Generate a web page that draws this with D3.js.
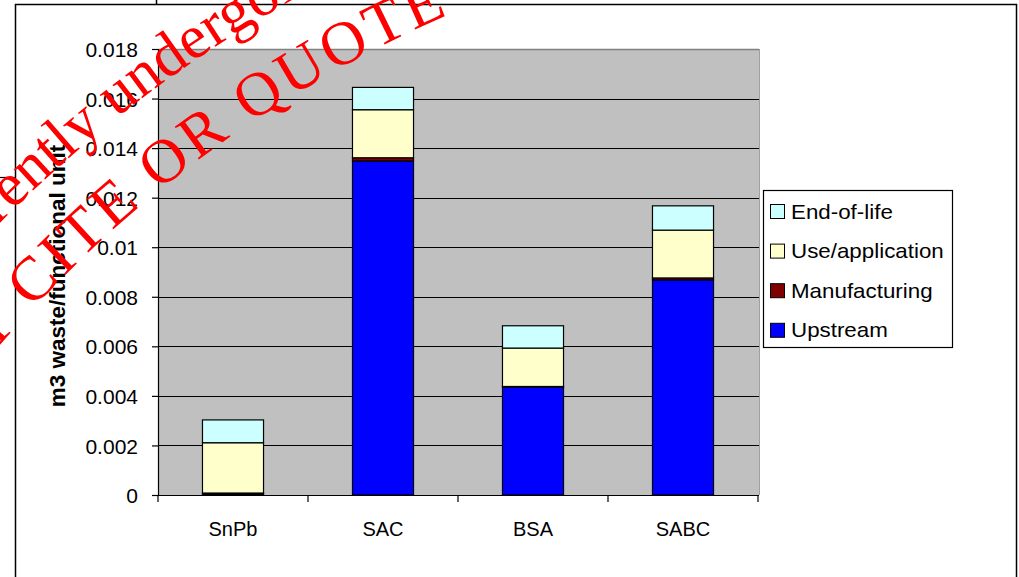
<!DOCTYPE html>
<html>
<head>
<meta charset="utf-8">
<script src="https://cdn.jsdelivr.net/npm/d3@7"></script>
<style>
  html, body { margin: 0; padding: 0; background: #ffffff; }
  svg { display: block; }
  text { font-family: Arial, "Liberation Sans", sans-serif; }
  text.stamp { font-family: "Liberation Serif", "Times New Roman", serif; }
</style>
</head>
<body>
<svg id="chart" width="1019" height="577"></svg>
<script>
// Waste volume per functional unit, by life-cycle stage
const categories = ["SnPb", "SAC", "BSA", "SABC"];
const upstream      = [0.00004, 0.01348, 0.00436, 0.00868];
const manufacturing = [0.00004, 0.00013, 0.00002, 0.00008];
const useApplication = [0.00203, 0.00194, 0.00155, 0.00193];
const endOfLife     = [0.00092, 0.00090, 0.00090, 0.00098];

const seriesNames  = ["Upstream", "Manufacturing", "Use/application", "End-of-life"];
const seriesColors = ["#0000ff", "#800000", "#ffffcc", "#ccffff"];

const yTickValues = [0, 0.002, 0.004, 0.006, 0.008, 0.01, 0.012, 0.014, 0.016, 0.018];
const yTickLabels = ["0", "0.002", "0.004", "0.006", "0.008", "0.01", "0.012", "0.014", "0.016", "0.018"];

const svg = d3.select("#chart");

// outer frame of the figure
svg.append("rect")
  .attr("x", 15.5).attr("y", 4.5)
  .attr("width", 1001).attr("height", 600)
  .attr("fill", "#ffffff").attr("stroke", "#000").attr("stroke-width", 1.5);
svg.append("line").attr("x1", 156.5).attr("x2", 156.5).attr("y1", 0).attr("y2", 4)
  .attr("stroke", "#000").attr("stroke-width", 1.5);
svg.append("line").attr("x1", 0).attr("x2", 15).attr("y1", 177.5).attr("y2", 177.5)
  .attr("stroke", "#000").attr("stroke-width", 1.2);

const plot = { left: 158, right: 759, top: 49, bottom: 495 };

const y = d3.scaleLinear().domain([0, 0.018]).range([plot.bottom, plot.top]);
const x = d3.scaleBand().domain(categories)
  .range([plot.left, plot.left + 600])
  .paddingInner(0.593).paddingOuter(0.2965);

// plot background
svg.append("rect")
  .attr("x", plot.left).attr("y", plot.top)
  .attr("width", plot.right - plot.left).attr("height", plot.bottom - plot.top)
  .attr("fill", "#c0c0c0");
svg.append("line")
  .attr("x1", plot.left).attr("x2", plot.right).attr("y1", plot.top + 0.5).attr("y2", plot.top + 0.5)
  .attr("stroke", "#808080").attr("stroke-width", 1.5);
svg.append("line")
  .attr("x1", plot.right + 0.5).attr("x2", plot.right + 0.5).attr("y1", plot.top).attr("y2", plot.bottom)
  .attr("stroke", "#a0a0a0").attr("stroke-width", 1);

// horizontal gridlines
svg.append("g")
  .selectAll("line")
  .data(yTickValues.filter(v => v > 0 && v < 0.018))
  .join("line")
  .attr("x1", plot.left).attr("x2", plot.right)
  .attr("y1", d => Math.round(y(d)) + 0.5).attr("y2", d => Math.round(y(d)) + 0.5)
  .attr("stroke", "#000").attr("stroke-width", 1);

// stacked bars
const rows = categories.map((c, i) => ({
  category: c,
  "Upstream": upstream[i],
  "Manufacturing": manufacturing[i],
  "Use/application": useApplication[i],
  "End-of-life": endOfLife[i]
}));
const stacked = d3.stack().keys(seriesNames)(rows);

svg.append("g")
  .selectAll("g")
  .data(stacked)
  .join("g")
  .attr("fill", (d, i) => seriesColors[i])
  .selectAll("rect")
  .data(d => d)
  .join("rect")
  .attr("x", d => x(d.data.category))
  .attr("width", x.bandwidth())
  .attr("y", d => y(d[1]))
  .attr("height", d => y(d[0]) - y(d[1]))
  .attr("stroke", "#000")
  .attr("stroke-width", 1.2);

// y axis
const yAxis = d3.axisLeft(y)
  .tickValues(yTickValues)
  .tickFormat((d, i) => yTickLabels[i])
  .tickSize(6)
  .tickPadding(14);
const yg = svg.append("g").attr("transform", `translate(${plot.left},0)`).call(yAxis);
yg.attr("font-family", null);
yg.select(".domain").attr("stroke", "#000").attr("stroke-width", 1.2);
yg.selectAll(".tick line").attr("stroke", "#000").attr("stroke-width", 1.2);
yg.selectAll(".tick text")
  .attr("font-size", 21)
  .attr("fill", "#000")
  .attr("dy", "0.36em");

// x axis with ticks at category boundaries
svg.append("line")
  .attr("x1", plot.left).attr("x2", plot.right)
  .attr("y1", plot.bottom + 0.5).attr("y2", plot.bottom + 0.5)
  .attr("stroke", "#000").attr("stroke-width", 1.2);
const step = x.step();
svg.append("g")
  .selectAll("line")
  .data(d3.range(categories.length + 1))
  .join("line")
  .attr("x1", i => plot.left + i * step).attr("x2", i => plot.left + i * step)
  .attr("y1", plot.bottom).attr("y2", plot.bottom + 7)
  .attr("stroke", "#000").attr("stroke-width", 1.2);
svg.append("g")
  .selectAll("text")
  .data(categories)
  .join("text")
  .attr("x", d => x(d) + x.bandwidth() / 2)
  .attr("y", 536)
  .attr("text-anchor", "middle")
  .attr("font-size", 20)
  .attr("fill", "#000")
  .text(d => d);

// y axis title
svg.append("text")
  .attr("transform", "translate(65,276) rotate(-90)")
  .attr("text-anchor", "middle")
  .attr("font-size", 22.5)
  .attr("font-weight", "bold")
  .attr("fill", "#000")
  .text("m3 waste/functional unit");

// legend, top entry is the top of the stack
const legend = svg.append("g");
legend.append("rect")
  .attr("x", 763.5).attr("y", 190.5)
  .attr("width", 189).attr("height", 157)
  .attr("fill", "#fff").attr("stroke", "#000").attr("stroke-width", 1.2);
const legendOrder = [3, 2, 1, 0];
const li = legend.selectAll("g.item")
  .data(legendOrder)
  .join("g")
  .attr("class", "item")
  .attr("transform", (d, k) => `translate(770,${211.5 + k * 39.6})`);
li.append("rect")
  .attr("x", 0.5).attr("y", -7)
  .attr("width", 14).attr("height", 14)
  .attr("fill", d => seriesColors[d])
  .attr("stroke", "#000").attr("stroke-width", 1);
li.append("text")
  .attr("transform", "translate(21,7) scale(1.09,1)")
  .attr("font-size", 20.5)
  .attr("fill", "#000")
  .text(d => seriesNames[d]);

// red draft stamp set on two concentric arcs across the upper left
const arcCenter = [950, 1165];
const rad = deg => deg * Math.PI / 180;
const defs = svg.append("defs");
const stamp = svg.append("g");

function stampArc(id, txt, radius, anchorChar, anchorDeg, spacing) {
  const a0 = -170, a1 = -80;
  const [cx, cy] = arcCenter;
  const p0 = [cx + radius * Math.cos(rad(a0)), cy + radius * Math.sin(rad(a0))];
  const p1 = [cx + radius * Math.cos(rad(a1)), cy + radius * Math.sin(rad(a1))];
  defs.append("path")
    .attr("id", id)
    .attr("d", `M${p0[0]},${p0[1]} A${radius},${radius} 0 0 1 ${p1[0]},${p1[1]}`);
  const t = stamp.append("text")
    .attr("class", "stamp")
    .attr("font-size", 62)
    .attr("fill", "#ff0000")
    .attr("letter-spacing", spacing);
  const tp = t.append("textPath")
    .attr("href", `#${id}`)
    .text(txt);
  const prefix = anchorChar > 0 ? t.node().getSubStringLength(0, anchorChar) : 0;
  const along = radius * rad(anchorDeg - a0);
  tp.attr("startOffset", along - prefix);
}
stampArc("stamp-arc-1", "currently undergoing review", 1338, 4, -134.5, 0);
stampArc("stamp-arc-2", "DO NOT CITE OR QUOTE", 1255, 7, -137.0, 4);
</script>
</body>
</html>
